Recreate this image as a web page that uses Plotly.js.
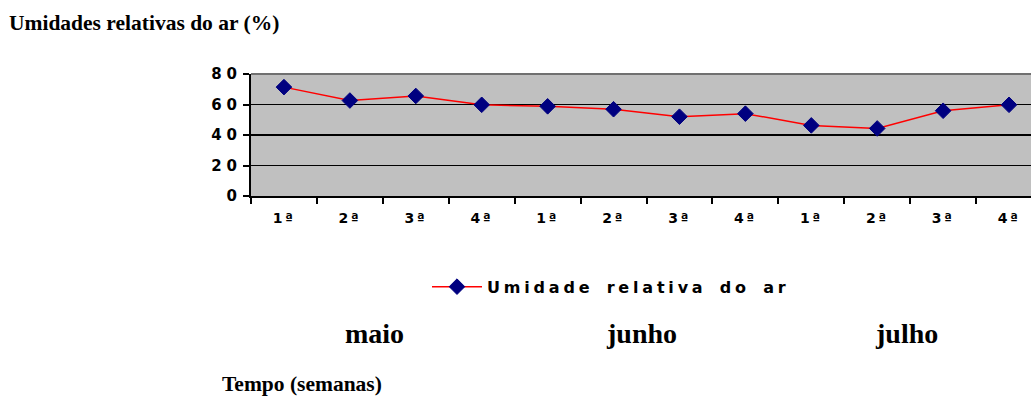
<!DOCTYPE html>
<html>
<head>
<meta charset="utf-8">
<script src="https://cdn.plot.ly/plotly-3.0.1.min.js"></script>
<style>
  html, body { margin: 0; padding: 0; overflow: hidden; background: #fff; }
  #chart { width: 1050px; height: 399px; }
  .ytick text { letter-spacing: 5px; }
  .xtick text { letter-spacing: 2.5px; }
  .legendtext { letter-spacing: 3.8px; word-spacing: 4px; }
</style>
</head>
<body>
<div id="chart"></div>
<script>
// ---- data ----
var weekLabels = ["1ª","2ª","3ª","4ª","1ª","2ª","3ª","4ª","1ª","2ª","3ª","4ª"];
var humidity = [71.4, 62.6, 65.6, 59.8, 58.8, 56.9, 52.0, 54.0, 46.3, 44.3, 55.9, 59.8];
var months = ["maio", "junho", "julho"];
var seriesName = "Umidade relativa do ar";
var yTicks = [0, 20, 40, 60, 80];

var idx = weekLabels.map(function (_, i) { return i; });
var boundaries = weekLabels.map(function (_, i) { return i - 0.5; }).concat([weekLabels.length - 0.5]);

var trace = {
  x: idx,
  y: humidity,
  type: 'scatter',
  mode: 'lines+markers',
  name: seriesName,
  line: { color: '#FF0000', width: 1.5 },
  marker: { symbol: 'diamond', size: 12, color: '#000080', line: { color: '#000080', width: 1 } }
};

// plot area in pixels: x 251..1042, y 73.5..196.5
function px(x) { return (x - 251) / 791; }
function py(y) { return (196.5 - y) / 123; }

var tickFont = 'DejaVu Sans, Verdana, sans-serif';
var serif = 'Liberation Serif, Times New Roman, serif';

var monthX = [374, 641, 906];
var annotations = months.map(function (m, i) {
  return {
    text: '<b>' + m + '</b>', xref: 'paper', yref: 'paper',
    x: px(monthX[i]), y: py(335), xanchor: 'center', yanchor: 'middle',
    showarrow: false,
    font: { family: serif, size: 28, color: '#000' }
  };
});
annotations.push({
  text: '<b>Tempo (semanas)</b>', xref: 'paper', yref: 'paper',
  x: px(220), y: py(386), xanchor: 'left', yanchor: 'middle', showarrow: false,
  font: { family: serif, size: 21.5, color: '#000' }
});

var layout = {
  width: 1050,
  height: 399,
  margin: { l: 251, r: 8, t: 73.5, b: 202.5 },
  paper_bgcolor: '#ffffff',
  plot_bgcolor: '#C0C0C0',
  title: {
    text: '<b>Umidades relativas do ar (%)</b>',
    x: 9 / 1050, xanchor: 'left', xref: 'container',
    y: 1 - 22 / 399, yanchor: 'middle', yref: 'container',
    font: { family: serif, size: 21.5, color: '#000' }
  },
  xaxis: {
    range: [-0.5, weekLabels.length - 0.5],
    tickmode: 'array', tickvals: idx, ticktext: weekLabels,
    ticks: '', showgrid: false, zeroline: false,
    showline: true, linecolor: '#000', linewidth: 2,
    tickfont: { family: tickFont, size: 14, color: '#000', weight: 'bold' },
    minor: { tickmode: 'array', tickvals: boundaries, ticks: 'outside', ticklen: 6, tickwidth: 2, tickcolor: '#000', showgrid: false },
    ticklabelstandoff: 8,
    fixedrange: true
  },
  yaxis: {
    range: [0, 80],
    tickmode: 'array', tickvals: yTicks,
    ticks: 'outside', ticklen: 6, tickwidth: 2, tickcolor: '#000',
    showgrid: true, gridcolor: '#000', gridwidth: 1.6,
    zeroline: false, showline: true, linecolor: '#000', linewidth: 2,
    tickfont: { family: tickFont, size: 15, color: '#000', weight: 'bold' },
    ticklabelstandoff: -2,
    fixedrange: true
  },
  showlegend: true,
  legend: {
    orientation: 'h', x: px(427), y: py(288), xanchor: 'left', yanchor: 'middle',
    bgcolor: 'rgba(0,0,0,0)', itemwidth: 50,
    font: { family: tickFont, size: 16, color: '#000', weight: 'bold' }
  },
  shapes: [{
    type: 'line', xref: 'paper', yref: 'paper', x0: 0, x1: 1, y0: 1, y1: 1,
    line: { color: '#707070', width: 2 }, layer: 'above'
  }],
  annotations: annotations
};

Plotly.newPlot('chart', [trace], layout, { displayModeBar: false, staticPlot: true });
</script>
</body>
</html>
